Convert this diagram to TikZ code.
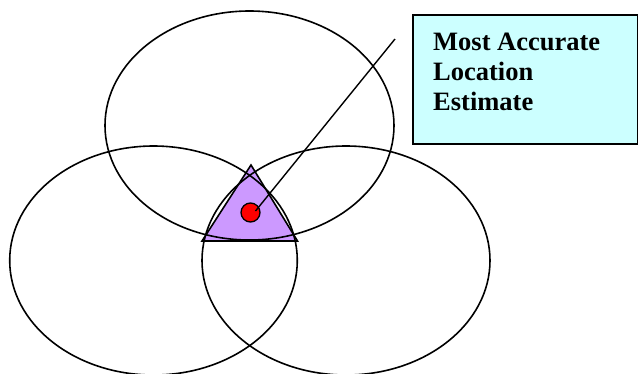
\documentclass[tikz,border=0pt]{standalone}
\usepackage{fontspec}
\setmainfont{Liberation Serif}
\begin{document}
\begin{tikzpicture}[x=1pt,y=-1pt,
  ring/.style={draw=black,line width=1.6pt},
  area/.style={draw=black,line width=1.6pt},
  dot/.style={circle,draw=black,line width=1.3pt,fill=red,minimum size=19pt,inner sep=0pt},
  callout/.style={draw=black,line width=1.6pt,fill=paleblue,minimum width=225pt,minimum height=129pt,inner sep=0pt,anchor=north west},
  calltext/.style={font=\bfseries\fontsize{26.5}{30}\selectfont,align=left,inner sep=0pt,anchor=north west}]
\definecolor{lavender}{HTML}{CC99FF}
\definecolor{paleblue}{HTML}{CCFFFF}
\useasboundingbox (0,0) rectangle (638,373);
\clip (0,0) rectangle (638,373);
\fill[white] (0,0) rectangle (638,373);
% triangle region
\coordinate (t1) at (251,165);
\coordinate (t2) at (202,241);
\coordinate (t3) at (297.5,241);
\fill[lavender] (t1) -- (t2) -- (t3) -- cycle;
% ellipses
\draw[ring] (249.5,125.5) ellipse [x radius=144.5pt, y radius=114.5pt];
\draw[ring] (153.5,260.5) ellipse [x radius=143.8pt, y radius=114.5pt];
\draw[ring] (346,260.5) ellipse [x radius=144pt, y radius=114.5pt];
\draw[area,line join=miter] (t1) -- (t2) -- (t3) -- cycle;
% estimate point
\node[dot] (est) at (250.5,212.5) {};
\coordinate (lend) at (255.5,211);
\coordinate (lstart) at (395,39);
\draw[black,line width=1.4pt] (lstart) -- (lend);
% callout box
\node[callout] (box) at (412,14) {};
\node[calltext] (lbl) at (433,32.5) {Most Accurate\\Location\\Estimate};
\end{tikzpicture}
\end{document}
